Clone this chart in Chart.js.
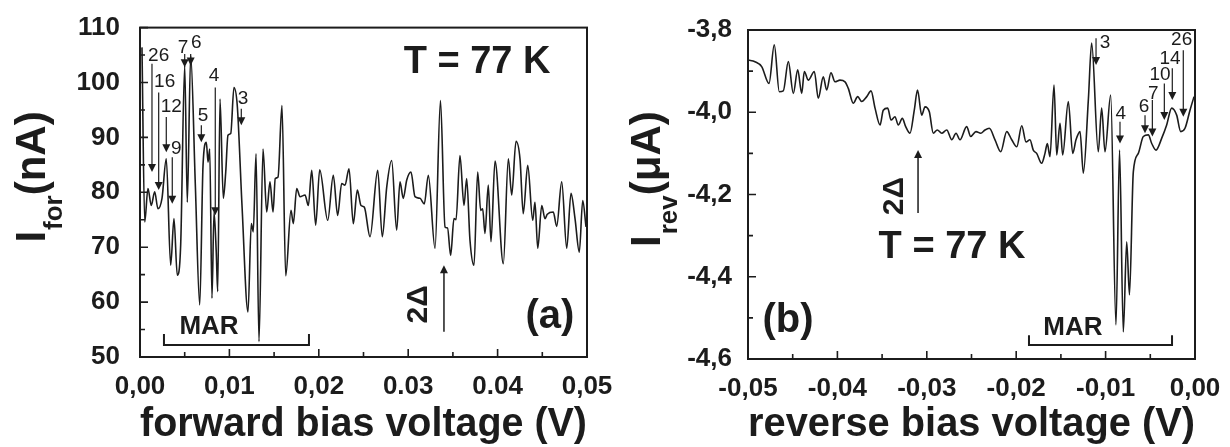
<!DOCTYPE html>
<html>
<head>
<meta charset="utf-8">
<script src="https://cdn.jsdelivr.net/npm/chart.js@4.4.0/dist/chart.umd.min.js"></script>
<style>
  body { margin: 0; background: #fff; }
  #wrap { position: relative; width: 1230px; height: 447px; overflow: hidden; }
  #wrap canvas { position: absolute; top: 0; }
</style>
</head>
<body>
<div id="wrap">
  <canvas id="forward" width="630" height="447" style="left:0"></canvas>
  <canvas id="reverse" width="620" height="447" style="left:610px"></canvas>
</div>
<script>
// ---------- forward branch: I_for (nA) vs V ----------
const fwdVoltage = [
  0.00022, 0.00053, 0.00089, 0.00126, 0.00164, 0.00201, 0.00246, 0.00294, 0.00343, 0.00380,
  0.00417, 0.00455, 0.00500, 0.00529, 0.00567, 0.00619, 0.00668, 0.00705, 0.00742, 0.00761,
  0.00780, 0.00805, 0.00828, 0.00853, 0.00869, 0.00895, 0.00932, 0.00959, 0.00984, 0.01015,
  0.01051, 0.01088, 0.01141, 0.01208, 0.01245, 0.01267, 0.01298, 0.01331, 0.01376, 0.01417,
  0.01454, 0.01488, 0.01513, 0.01544, 0.01588, 0.01630, 0.01689, 0.01715, 0.01753, 0.01790,
  0.01846, 0.01883, 0.01921, 0.01965, 0.02010, 0.02100, 0.02162, 0.02211, 0.02256, 0.02293,
  0.02338, 0.02386, 0.02431, 0.02472, 0.02509, 0.02573, 0.02659, 0.02710, 0.02760, 0.02815,
  0.02871, 0.02908, 0.02945, 0.02983, 0.03031, 0.03076, 0.03132, 0.03180, 0.03225, 0.03300,
  0.03361, 0.03412, 0.03440, 0.03475, 0.03512, 0.03535, 0.03579, 0.03624, 0.03654, 0.03691,
  0.03736, 0.03777, 0.03811, 0.03833, 0.03859, 0.03896, 0.03926, 0.03971, 0.04064, 0.04120,
  0.04158, 0.04206, 0.04251, 0.04287, 0.04337, 0.04393, 0.04418, 0.04449, 0.04494, 0.04530,
  0.04556, 0.04623, 0.04661, 0.04717, 0.04773, 0.04821, 0.04866, 0.04914, 0.04952, 0.04989
];
const fwdCurrent = [
  106.4, 74.6, 80.7, 77.6, 80.1, 77.0, 78.9, 86.1, 66.7, 75.2,
  64.9, 70.4, 103.1, 78.2, 104.9, 81.3, 59.5, 84.9, 89.1, 85.5,
  87.9, 60.7, 76.4, 69.1, 61.9, 97.0, 78.9, 83.7, 90.4, 90.7,
  99.1, 95.8, 77.6, 58.2, 74.3, 72.8, 87.0, 52.8, 87.9, 76.4,
  81.9, 76.4, 82.5, 82.8, 95.8, 64.8, 76.7, 74.3, 80.7, 79.2,
  79.5, 77.6, 84.0, 74.0, 84.1, 74.9, 83.1, 75.8, 81.6, 81.3,
  84.3, 74.3, 80.4, 77.6, 77.3, 71.9, 84.0, 71.9, 81.0, 85.8,
  73.1, 81.9, 78.9, 82.2, 83.7, 79.2, 78.9, 77.9, 83.1, 69.8,
  96.7, 73.7, 73.5, 68.5, 75.2, 75.0, 86.7, 77.6, 82.5, 71.3,
  66.7, 83.7, 76.7, 77.0, 72.5, 81.3, 71.0, 85.7, 67.0, 86.1,
  79.5, 89.3, 86.0, 76.1, 84.9, 74.9, 78.2, 69.8, 77.6, 75.2,
  76.0, 76.4, 73.8, 81.9, 69.8, 79.8, 75.2, 69.1, 78.5, 73.7
];
const fwdTicksX = ['0,00', '0,01', '0,02', '0.03', '0.04', '0,05'];
const fwdTicksY = ['50', '60', '70', '80', '90', '100', '110'];

// ---------- reverse branch: I_rev (uA) vs V ----------
const revVoltage = [
  -0.04997, -0.04922, -0.04847, -0.04765, -0.04706, -0.04650, -0.04605, -0.04549, -0.04493, -0.04444,
  -0.04399, -0.04370, -0.04326, -0.04258, -0.04214, -0.04158, -0.04120, -0.04072, -0.04027, -0.03971,
  -0.03915, -0.03878, -0.03822, -0.03773, -0.03728, -0.03672, -0.03624, -0.03579, -0.03523, -0.03487,
  -0.03437, -0.03400, -0.03356, -0.03319, -0.03274, -0.03236, -0.03188, -0.03140, -0.03104, -0.03057,
  -0.03020, -0.02972, -0.02927, -0.02883, -0.02833, -0.02777, -0.02721, -0.02673, -0.02629, -0.02554,
  -0.02509, -0.02450, -0.02397, -0.02349, -0.02301, -0.02237, -0.02173, -0.02106, -0.02050, -0.01994,
  -0.01938, -0.01890, -0.01846, -0.01809, -0.01771, -0.01715, -0.01678, -0.01652, -0.01622, -0.01577,
  -0.01547, -0.01510, -0.01480, -0.01417, -0.01368, -0.01331, -0.01286, -0.01249, -0.01193, -0.01156,
  -0.01082, -0.01044, -0.01007, -0.00943, -0.00884, -0.00844, -0.00802, -0.00764, -0.00733, -0.00690,
  -0.00634, -0.00578, -0.00522, -0.00484, -0.00436, -0.00372, -0.00317, -0.00261, -0.00205, -0.00160,
  -0.00112, -0.00056, -0.00011
];
const revCurrent = [
  -3.873, -3.877, -3.889, -3.930, -3.836, -3.950, -3.948, -3.877, -3.954, -3.897,
  -3.954, -3.901, -3.922, -3.901, -3.966, -3.914, -3.946, -3.904, -3.926, -3.922,
  -3.926, -3.942, -3.978, -3.962, -3.974, -3.962, -3.948, -3.990, -4.031, -3.995,
  -3.990, -4.019, -4.011, -4.031, -4.015, -4.035, -4.051, -3.995, -3.946, -4.007,
  -3.987, -3.999, -4.051, -4.043, -4.051, -4.043, -4.067, -4.051, -4.067, -4.035,
  -4.059, -4.047, -4.051, -4.043, -4.039, -4.067, -4.096, -4.047, -4.067, -4.084,
  -4.033, -4.072, -4.067, -4.092, -4.100, -4.124, -4.100, -4.076, -4.108, -3.934,
  -4.104, -4.027, -4.104, -3.974, -4.100, -4.067, -4.047, -4.148, -3.970, -3.832,
  -4.096, -3.990, -4.096, -3.958, -4.517, -4.092, -4.534, -4.315, -4.444, -4.145,
  -4.100, -4.059, -4.055, -4.076, -4.092, -4.063, -4.031, -3.990, -4.007, -4.047,
  -4.039, -3.995, -3.962
];
const revTicksX = ['-0,05', '-0,04', '-0,03', '-0,02', '-0,01', '0,00'];
const revTicksY = ['-4,6', '-4,4', '-4,2', '-4,0', '-3,8'];

// MAR order numbers with their arrows (voltage, arrow top, arrow tip, label position)
const fwdOrders = [
  { n: '26', x: 0.00134, from: 103.4, to: 83.7, lx: 0.00209, ly: 104.9 },
  { n: '16', x: 0.00209, from: 98.2, to: 80.4, lx: 0.00276, ly: 100.1 },
  { n: '12', x: 0.00294, from: 93.7, to: 87.3, lx: 0.00350, ly: 95.5 },
  { n: '9', x: 0.00361, from: 86.4, to: 77.9, lx: 0.00406, ly: 87.9 },
  { n: '7', x: 0.00500, from: 105.2, to: 102.8, lx: 0.00481, ly: 106.4 },
  { n: '6', x: 0.00567, from: 105.2, to: 103.1, lx: 0.00630, ly: 107.3 },
  { n: '5', x: 0.00686, from: 92.2, to: 89.1, lx: 0.00705, ly: 94.0 },
  { n: '4', x: 0.00842, from: 99.1, to: 75.8, lx: 0.00828, ly: 101.3 },
  { n: '3', x: 0.01133, from: 95.2, to: 92.2, lx: 0.01152, ly: 97.0 }
];
const revOrders = [
  { n: '3', x: -0.01107, from: -3.820, to: -3.885, lx: -0.01007, ly: -3.832 },
  { n: '4', x: -0.00839, from: -4.023, to: -4.076, lx: -0.00831, ly: -4.003 },
  { n: '6', x: -0.00559, from: -4.007, to: -4.051, lx: -0.00570, ly: -3.987 },
  { n: '7', x: -0.00477, from: -3.970, to: -4.059, lx: -0.00466, ly: -3.954 },
  { n: '10', x: -0.00343, from: -3.930, to: -4.019, lx: -0.00391, ly: -3.908 },
  { n: '14', x: -0.00254, from: -3.893, to: -3.970, lx: -0.00280, ly: -3.869 },
  { n: '26', x: -0.00131, from: -3.849, to: -4.011, lx: -0.00149, ly: -3.824 }
];

const FONT = '"Liberation Sans", Arial, Helvetica, sans-serif';
const INK = '#1c1c1c';
Chart.defaults.font.family = FONT;
Chart.defaults.color = INK;

function text(ctx, str, x, y, size, weight, rot) {
  ctx.save();
  ctx.translate(x, y);
  if (rot) ctx.rotate(rot);
  ctx.font = `${weight} ${size}px ${FONT}`;
  ctx.textAlign = 'center';
  ctx.textBaseline = 'middle';
  ctx.fillText(str, 0, 0);
  ctx.restore();
}

// down-pointing (dir=1) or up-pointing (dir=-1) arrow
function arrow(ctx, x, y0, y1, dir) {
  ctx.beginPath();
  ctx.moveTo(x, y0);
  ctx.lineTo(x, y1 - dir * 6);
  ctx.stroke();
  ctx.beginPath();
  ctx.moveTo(x, y1);
  ctx.lineTo(x - 4, y1 - dir * 8);
  ctx.lineTo(x + 4, y1 - dir * 8);
  ctx.closePath();
  ctx.fill();
}

// box, inward ticks, axis title with subscript and the in-plot notes
const framePlugin = {
  id: 'frame',
  afterDraw(chart, args, o) {
    const { ctx, chartArea: a, scales: { x, y } } = chart;
    ctx.save();
    ctx.strokeStyle = INK;
    ctx.fillStyle = INK;
    ctx.lineWidth = 2;
    ctx.strokeRect(a.left, a.top, a.right - a.left, a.bottom - a.top);

    ctx.lineWidth = 1.6;
    ctx.beginPath();
    const nx = Math.round((x.max - x.min) / o.xMinor);
    for (let i = 0; i <= nx; i++) {
      const px = x.getPixelForValue(x.min + i * o.xMinor);
      ctx.moveTo(px, a.bottom);
      ctx.lineTo(px, a.bottom - (i % 2 ? 5 : 8));
    }
    const ny = Math.round((y.max - y.min) / o.yMinor);
    for (let i = 0; i <= ny; i++) {
      const py = y.getPixelForValue(y.min + i * o.yMinor);
      ctx.moveTo(a.left, py);
      ctx.lineTo(a.left + (i % 2 ? 5 : 8), py);
    }
    ctx.stroke();

    // rotated y title: I, subscript, unit
    const t = o.yTitle;
    ctx.save();
    ctx.translate(a.left + t.dx, a.top + t.dy);
    ctx.rotate(-Math.PI / 2);
    ctx.textAlign = 'left';
    ctx.textBaseline = 'alphabetic';
    ctx.font = `bold 42px ${FONT}`;
    ctx.fillText(t.main, 0, 0);
    let w = ctx.measureText(t.main).width + 1;
    ctx.font = `bold 26px ${FONT}`;
    ctx.fillText(t.sub, w, 17);
    w += ctx.measureText(t.sub).width;
    ctx.font = `bold 42px ${FONT}`;
    ctx.fillText(t.unit, w, 0);
    ctx.restore();

    // order arrows
    ctx.lineWidth = 1.2;
    o.orders.forEach(m => {
      const px = x.getPixelForValue(m.x);
      arrow(ctx, px, y.getPixelForValue(m.from), y.getPixelForValue(m.to), 1);
      text(ctx, m.n, x.getPixelForValue(m.lx), y.getPixelForValue(m.ly), 19, 'normal');
    });

    // MAR bracket
    const b = o.mar;
    const bx0 = x.getPixelForValue(b.x0), bx1 = x.getPixelForValue(b.x1);
    const by = y.getPixelForValue(b.y), bt = y.getPixelForValue(b.top);
    ctx.lineWidth = 2;
    ctx.beginPath();
    ctx.moveTo(bx0, bt); ctx.lineTo(bx0, by); ctx.lineTo(bx1, by); ctx.lineTo(bx1, bt);
    ctx.stroke();
    text(ctx, 'MAR', x.getPixelForValue(b.tx), y.getPixelForValue(b.ty), 26, 'bold');

    // 2Δ marker
    const g = o.gap;
    ctx.lineWidth = 1.5;
    arrow(ctx, x.getPixelForValue(g.x), y.getPixelForValue(g.from), y.getPixelForValue(g.to), -1);
    text(ctx, '2Δ', x.getPixelForValue(g.tx), y.getPixelForValue(g.ty), 30, 'bold', -Math.PI / 2);

    text(ctx, 'T = 77 K', x.getPixelForValue(o.temp.x), y.getPixelForValue(o.temp.y), 38, 'bold');
    text(ctx, o.panel.t, x.getPixelForValue(o.panel.x), y.getPixelForValue(o.panel.y), 40, 'bold');
    ctx.restore();
  }
};

function makeChart(id, xs, ys, cfg) {
  return new Chart(document.getElementById(id), {
    type: 'line',
    data: {
      datasets: [{
        data: xs.map((v, i) => ({ x: v, y: ys[i] })),
        borderColor: INK,
        borderWidth: 1.6,
        pointRadius: 0,
        cubicInterpolationMode: 'monotone',
        fill: false
      }]
    },
    options: {
      responsive: false,
      animation: false,
      events: [],
      layout: { padding: { left: 0, top: cfg.padTop, right: cfg.padRight, bottom: 0 } },
      scales: {
        x: {
          type: 'linear',
          min: cfg.xMin, max: cfg.xMax,
          grid: { display: false },
          border: { display: false },
          afterBuildTicks: s => { s.ticks = cfg.xTicks.map((_, i) => ({ value: cfg.xMin + i * 0.01 })); },
          afterFit: s => { s.height = cfg.xHeight; },
          ticks: {
            autoSkip: false, maxRotation: 0, padding: 6,
            font: { size: 26, weight: 'bold' }, color: INK,
            callback: (v, i) => cfg.xTicks[i]
          },
          title: {
            display: true, text: cfg.xTitle, color: INK,
            font: { size: 41, weight: 'bold', lineHeight: 1 },
            padding: { top: 0, bottom: 2 }
          }
        },
        y: {
          type: 'linear',
          min: cfg.yMin, max: cfg.yMax,
          grid: { display: false },
          border: { display: false },
          afterBuildTicks: s => { s.ticks = cfg.yTicks.map((_, i) => ({ value: cfg.yMin + i * cfg.yStep })); },
          afterFit: s => { s.width = cfg.yWidth; },
          ticks: {
            autoSkip: false, padding: cfg.yPad,
            font: { size: 26, weight: 'bold' }, color: INK,
            callback: (v, i) => cfg.yTicks[i]
          }
        }
      },
      plugins: {
        legend: { display: false },
        tooltip: { enabled: false },
        frame: cfg.frame
      }
    },
    plugins: [framePlugin]
  });
}

makeChart('forward', fwdVoltage, fwdCurrent, {
  xMin: 0, xMax: 0.05, xTicks: fwdTicksX, xTitle: 'forward bias voltage (V)',
  yMin: 50, yMax: 110, yStep: 10, yTicks: fwdTicksY,
  yWidth: 140, yPad: 12, xHeight: 90, padTop: 27, padRight: 43,
  frame: {
    xMinor: 0.005, yMinor: 5,
    yTitle: { main: 'I', sub: 'for', unit: '(nA)', dx: -95, dy: 215 },
    orders: fwdOrders,
    mar: { x0: 0.00268, x1: 0.01890, y: 52.2, top: 54.2, tx: 0.00772, ty: 55.45 },
    gap: { x: 0.03400, from: 54.6, to: 66.7, tx: 0.03121, ty: 59.6 },
    temp: { x: 0.03770, y: 103.6 },
    panel: { t: '(a)', x: 0.04586, y: 57.3 }
  }
});

makeChart('reverse', revVoltage, revCurrent, {
  xMin: -0.05, xMax: 0, xTicks: revTicksX, xTitle: 'reverse bias voltage (V)',
  yMin: -4.6, yMax: -3.8, yStep: 0.2, yTicks: revTicksY,
  yWidth: 138, yPad: 8, xHeight: 88, padTop: 30, padRight: 35,
  frame: {
    xMinor: 0.005, yMinor: 0.1,
    yTitle: { main: 'I', sub: 'rev', unit: '(\u03bcA)', dx: -88, dy: 217 },
    orders: revOrders,
    mar: { x0: -0.01857, x1: -0.00257, y: -4.566, top: -4.542, tx: -0.01365, ty: -4.525 },
    gap: { x: -0.03098, from: -4.245, to: -4.092, tx: -0.03356, ty: -4.204 },
    temp: { x: -0.02718, y: -4.330 },
    panel: { t: '(b)', x: -0.04553, y: -4.508 }
  }
});
</script>
</body>
</html>
